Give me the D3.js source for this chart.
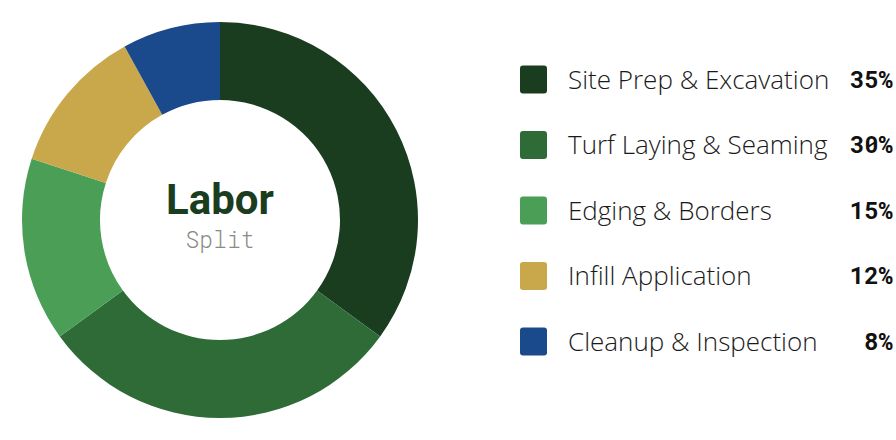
<!DOCTYPE html>
<html><head><meta charset="utf-8">
<script src="https://cdn.jsdelivr.net/npm/d3@7"></script>
<style>html,body{margin:0;padding:0;background:#fff;}svg{display:block;}</style>
</head><body>
<svg id="c" width="896" height="440"></svg>
<script>
const categories = ["Site Prep & Excavation","Turf Laying & Seaming","Edging & Borders","Infill Application","Cleanup & Inspection"];
const values = [35,30,15,12,8];
const colors = ["#1b3d1f","#2e6b37","#4a9e56","#c8a84a","#1b4a8c"];
const centerTitle = "Labor";
const centerSub = "Split";

const svg = d3.select("#c");
const cx = 220, cy = 220, R = 198, r = 120;
const pie = d3.pie().sort(null).value(d=>d.v);
const arc = d3.arc().innerRadius(r).outerRadius(R);
const data = categories.map((c,i)=>({c, v: values[i], col: colors[i]}));
const g = svg.append("g").attr("transform",`translate(${cx},${cy})`);
g.selectAll("path").data(pie(data)).join("path").attr("d",arc).attr("fill",d=>d.data.col);
g.append("text").attr("text-anchor","middle").attr("y",-6).attr("font-family","Roboto").attr("font-weight",700).attr("font-size",42).attr("fill","#1b3d1f").text(centerTitle);
g.append("text").attr("text-anchor","middle").attr("y",28).attr("font-family","'Roboto Mono', monospace").attr("font-weight",300).attr("font-size",23).attr("fill","#868c86").text(centerSub);

const y = d3.scalePoint().domain(categories).range([79.5, 341.5]);
const lg = svg.append("g");
const row = lg.selectAll("g").data(data).join("g").attr("transform",d=>`translate(0,${y(d.c)})`);
row.append("rect").attr("x",520).attr("y",-14).attr("width",27).attr("height",28).attr("rx",3).attr("fill",d=>d.col);
row.append("text").attr("x",568).attr("dy","0.35em").attr("font-family","Open Sans").attr("font-weight",300).attr("font-size",26).attr("fill","#1a1a1a").text(d=>d.c);
row.append("text").attr("x",893).attr("text-anchor","end").attr("dy","0.35em").attr("font-family","'Roboto Mono', monospace").attr("font-weight",700).attr("font-size",24).attr("fill","#111").text(d=>d.v+"%");
</script>
</body></html>
